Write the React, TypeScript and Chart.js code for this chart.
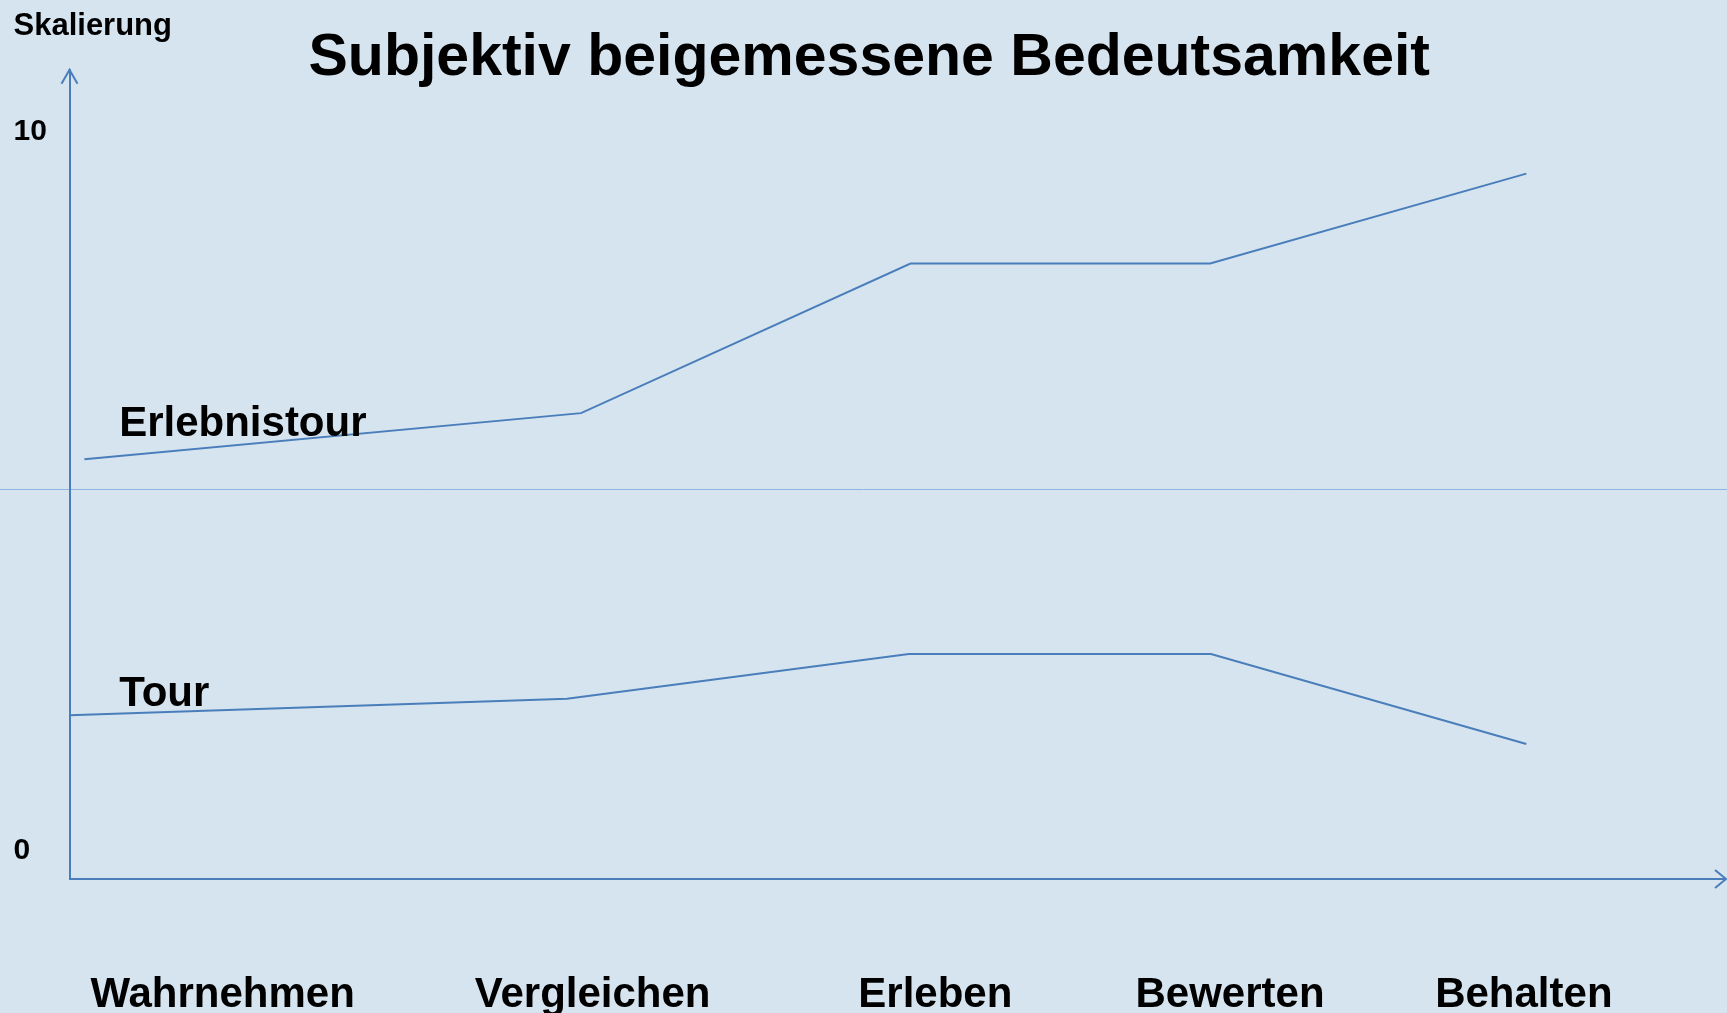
import React, { useEffect, useRef } from "react";
import { Chart, registerables } from "chart.js";

Chart.register(...registerables);

// ---- Data ----
const TITLE = "Subjektiv beigemessene Bedeutsamkeit";
const Y_AXIS_NAME = "Skalierung";
const CATEGORIES = ["Wahrnehmen", "Vergleichen", "Erleben", "Bewerten", "Behalten"];
const CATEGORY_X = [9.25, 31.6, 52.3, 70.1, 87.85];
const Y_TICKS = [0, 10];
const MID_LINE_VALUE = 5;

const SERIES_NAMES = ["Erlebnistour", "Tour"];
const ERLEBNISTOUR_X = [0.9, 30.9, 50.8, 68.9, 88.0];
const ERLEBNISTOUR_Y = [5.42, 6.06, 8.14, 8.14, 9.39];
const TOUR_X = [0, 30.05, 50.7, 68.95, 88.0];
const TOUR_Y = [1.86, 2.09, 2.71, 2.71, 1.46];
const ERLEBNISTOUR_LABEL_AT = { x: 3.0, y: 5.74 };
const TOUR_LABEL_AT = { x: 3.0, y: 1.99 };

// ---- Styles ----
const FAMILY = "'Liberation Sans', Arial, Helvetica, sans-serif";
const BLUE = "#4a7ebb";
const MID_BLUE = "#8eb4e3";
const BG = "#d6e4f0";

export default function App() {
  const canvasRef = useRef<HTMLCanvasElement | null>(null);

  useEffect(() => {
    const canvas = canvasRef.current;
    if (!canvas) return;

    const labelAnchors = [ERLEBNISTOUR_LABEL_AT, TOUR_LABEL_AT];

    const decorPlugin = {
      id: "decor",
      beforeDraw(chart: any) {
        const ctx = chart.ctx;
        const y = chart.scales.y.getPixelForValue(MID_LINE_VALUE);
        ctx.save();
        ctx.strokeStyle = MID_BLUE;
        ctx.lineWidth = 1;
        ctx.beginPath();
        ctx.moveTo(0, Math.round(y) + 0.5);
        ctx.lineTo(chart.width, Math.round(y) + 0.5);
        ctx.stroke();
        ctx.restore();
      },
      afterDraw(chart: any) {
        const ctx = chart.ctx;
        const { left, top, right, bottom } = chart.chartArea;
        ctx.save();
        ctx.strokeStyle = BLUE;
        ctx.lineWidth = 2;
        ctx.beginPath();
        ctx.moveTo(left - 8, top + 14);
        ctx.lineTo(left, top);
        ctx.lineTo(left + 8, top + 14);
        ctx.stroke();
        ctx.beginPath();
        ctx.moveTo(right - 10, bottom - 9);
        ctx.lineTo(right + 1, bottom);
        ctx.lineTo(right - 10, bottom + 9);
        ctx.stroke();

        ctx.fillStyle = "#000";
        ctx.textAlign = "left";
        ctx.textBaseline = "alphabetic";
        ctx.font = `bold 31px ${FAMILY}`;
        ctx.fillText(Y_AXIS_NAME, chart.scales.y.left, 35);

        ctx.font = `bold 42px ${FAMILY}`;
        chart.data.datasets.forEach((ds: any, i: number) => {
          const at = labelAnchors[i];
          ctx.fillText(
            ds.label,
            chart.scales.x.getPixelForValue(at.x),
            chart.scales.y.getPixelForValue(at.y)
          );
        });
        ctx.restore();
      },
    };

    const chart = new Chart(canvas, {
      type: "line",
      data: {
        datasets: [
          {
            label: SERIES_NAMES[0],
            data: ERLEBNISTOUR_X.map((x, i) => ({ x, y: ERLEBNISTOUR_Y[i] })),
            borderColor: BLUE,
            borderWidth: 2,
            pointRadius: 0,
            tension: 0,
            fill: false,
          },
          {
            label: SERIES_NAMES[1],
            data: TOUR_X.map((x, i) => ({ x, y: TOUR_Y[i] })),
            borderColor: BLUE,
            borderWidth: 2,
            pointRadius: 0,
            tension: 0,
            fill: false,
          },
        ],
      },
      options: {
        responsive: false,
        animation: false,
        events: [],
        layout: { padding: { left: 13.5, right: 2, top: 0, bottom: 0 } },
        plugins: {
          legend: { display: false },
          tooltip: { enabled: false },
          title: {
            display: true,
            text: TITLE,
            color: "#000",
            font: { family: FAMILY, size: 59, weight: "bold", lineHeight: 0.36 },
            padding: { top: 48.5, bottom: 0 },
          },
        },
        scales: {
          x: {
            type: "linear",
            position: "bottom",
            min: 0,
            max: 100,
            grid: { display: false },
            border: { display: true, color: BLUE, width: 2 },
            ticks: {
              color: "#000",
              font: { family: FAMILY, size: 42, weight: "bold" },
              padding: 83.5,
              autoSkip: false,
              maxRotation: 0,
              minRotation: 0,
              callback: (_v: any, i: number) => CATEGORIES[i] ?? "",
            },
            afterBuildTicks: (s: any) => {
              s.ticks = CATEGORY_X.map((v) => ({ value: v }));
            },
            afterFit: (s: any) => {
              s.height = 134;
            },
          },
          y: {
            type: "linear",
            min: -0.417,
            max: 10.834,
            grid: { display: false },
            border: { display: true, color: BLUE, width: 2 },
            ticks: {
              color: "#000",
              font: { family: FAMILY, size: 30, weight: "bold" },
              crossAlign: "far",
              labelOffset: 2,
              callback: (v: any) => String(v),
            },
            afterBuildTicks: (s: any) => {
              s.ticks = Y_TICKS.map((v) => ({ value: v }));
            },
            afterFit: (s: any) => {
              s.width = 56;
            },
          },
        },
      } as any,
      plugins: [decorPlugin],
    });

    return () => chart.destroy();
  }, []);

  return (
    <div
      style={{
        position: "fixed",
        left: 0,
        top: 0,
        width: 1727,
        height: 1013,
        background: BG,
        overflow: "hidden",
      }}
    >
      <canvas ref={canvasRef} width={1727} height={1013} style={{ display: "block" }} />
    </div>
  );
}
